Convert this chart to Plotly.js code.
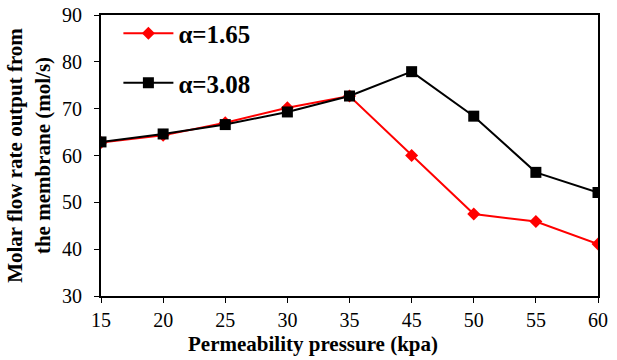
<!DOCTYPE html>
<html>
<head>
<meta charset="utf-8">
<script src="https://cdn.plot.ly/plotly-3.0.1.min.js"></script>
<style>html,body{margin:0;padding:0;background:#fff;}#chart{width:617px;height:360px;}</style>
</head>
<body>
<div id="chart"></div>
<script>
// Permeability pressure (kpa) categories and molar flow rate for two selectivities
const pressures = ['15', '20', '25', '30', '35', '45', '50', '55', '60'];
const flowAlpha165 = [62.8, 64.3, 67.0, 70.2, 72.7, 60.0, 47.5, 45.9, 41.1];
const flowAlpha308 = [62.9, 64.6, 66.6, 69.3, 72.7, 77.9, 68.4, 56.4, 52.1];
const seriesNames = ['α=1.65', 'α=3.08'];
const xTitle = 'Permeability pressure (kpa)';
const yTitle = 'Molar flow rate output from<br>the membrane (mol/s)';

const serif = 'Times New Roman';

const traces = [
  {
    x: pressures, y: flowAlpha165, name: seriesNames[0], legendgroup: 'a',
    type: 'scatter', mode: 'lines+markers',
    line: {color: '#ff0000', width: 2},
    marker: {symbol: 'diamond', size: 10, color: '#ff0000'}
  },
  {
    x: pressures, y: flowAlpha308, name: seriesNames[1], legendgroup: 'b',
    type: 'scatter', mode: 'lines+markers',
    line: {color: '#000000', width: 2},
    marker: {symbol: 'square', size: 11, color: '#000000'}
  }
];

const layout = {
  width: 617, height: 360,
  margin: {l: 101, r: 19, t: 14, b: 64},
  paper_bgcolor: '#fff', plot_bgcolor: '#fff',
  font: {family: serif, color: '#000'},
  showlegend: true,
  legend: {
    x: 0.035, y: 1.012, xanchor: 'left', yanchor: 'top',
    bgcolor: 'rgba(0,0,0,0)', borderwidth: 0,
    font: {family: serif, size: 25, color: '#000', weight: 'bold'},
    traceorder: 'grouped', tracegroupgap: 14,
    itemwidth: 50
  },
  xaxis: {
    type: 'category', range: [0, 8],
    showgrid: false, zeroline: false,
    showline: true, linecolor: '#000', linewidth: 2, mirror: true,
    ticks: 'outside', ticklen: 5, tickwidth: 1, tickcolor: '#000',
    ticklabelstandoff: 0,
    tickfont: {family: serif, size: 20, color: '#000'}
  },
  yaxis: {
    range: [30, 90], dtick: 10,
    showgrid: false, zeroline: false,
    showline: true, linecolor: '#000', linewidth: 2, mirror: true,
    ticks: 'outside', ticklen: 5, tickwidth: 1, tickcolor: '#000',
    ticklabelstandoff: 8,
    tickfont: {family: serif, size: 20, color: '#000'},
    title: {text: yTitle, standoff: 6,
            font: {family: serif, size: 21, color: '#000', weight: 'bold'}}
  },
  // x-axis title sits centred on the page width rather than on the plot area
  annotations: [{
    text: xTitle, xref: 'paper', yref: 'paper',
    x: 0.4256, y: -0.172, xanchor: 'center', yanchor: 'middle',
    showarrow: false,
    font: {family: serif, size: 21, color: '#000', weight: 'bold'}
  }]
};

Plotly.newPlot('chart', traces, layout, {displayModeBar: false, staticPlot: true});
</script>
</body>
</html>
